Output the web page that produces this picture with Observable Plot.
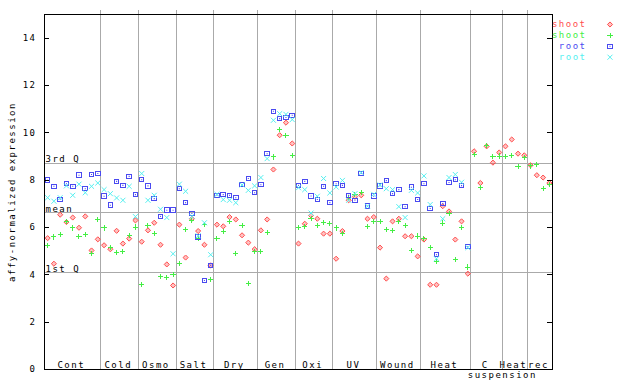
<!DOCTYPE html>
<html><head><meta charset="utf-8">
<script src="https://cdn.jsdelivr.net/npm/d3@7"></script>
<script src="https://cdn.jsdelivr.net/npm/@observablehq/plot@0.6"></script>
<style>body{margin:0;background:#fff}</style>
</head><body><div id="chart"></div>
<script>
const groupNames = ["Cont","Cold","Osmo","Salt","Dry","Gen","Oxi","UV","Wound","Heat","C","Heat","rec"];
const groupSizes = [9,6,6,6,7,6,6,7,7,8,5,4,4];
const subLabel = "suspension";

const shootRed = [
  5.55,4.47,6.54,6.23,6.42,5.99,6.47,5.03,5.50,
  5.25,5.08,5.86,5.32,5.53,6.30,
  5.40,5.88,6.20,5.27,4.44,3.55,
  6.12,4.73,6.37,5.85,5.27,4.40,
  6.12,6.05,6.44,6.34,5.67,5.36,5.08,
  5.88,6.34,8.45,9.90,10.43,9.55,
  5.32,6.16,6.51,6.37,5.74,5.74,
  4.68,5.85,7.15,7.30,7.36,6.37,6.44,
  5.15,3.84,6.26,6.37,5.63,5.63,4.78,
  5.49,3.58,3.58,6.90,6.68,5.49,6.26,4.05,
  9.22,7.88,9.43,8.74,9.17,
  9.43,9.72,9.12,9.05,
  8.63,8.21,8.11,7.88
];
const shootGreen = [
  5.25,5.60,5.70,6.26,5.98,5.63,5.70,4.89,6.34,
  5.98,5.17,4.94,4.99,5.67,6.02,
  3.60,6.09,5.74,3.93,3.88,4.02,
  4.47,5.92,6.30,5.55,6.12,3.79,
  5.53,5.84,6.27,4.89,6.09,3.65,4.99,
  4.99,5.78,8.98,10.14,9.90,9.05,
  5.99,6.05,6.37,6.08,6.20,6.16,
  5.98,5.74,7.26,7.40,7.47,6.05,6.26,
  6.26,5.91,5.88,6.26,6.09,5.03,5.64,
  5.55,5.17,4.57,6.19,6.59,4.64,5.99,4.33,
  9.08,7.69,9.48,9.01,9.02,
  9.01,9.05,8.59,8.96,
  8.60,8.67,7.64,7.83
];
const rootBlue = [
  8.00,7.74,7.19,7.85,7.74,8.21,7.64,8.24,8.28,
  7.32,6.94,7.95,7.78,8.16,7.39,
  8.02,7.76,7.22,6.47,6.73,6.73,
  7.64,7.05,6.59,5.60,3.76,4.40,
  7.36,7.39,7.36,7.26,7.81,8.07,7.47,
  7.81,9.12,10.91,10.60,10.65,10.74,
  7.78,7.95,7.33,7.18,7.74,7.05,
  7.85,7.78,7.36,7.15,8.28,6.90,7.32,
  7.76,7.98,7.43,7.60,6.88,7.70,7.18,
  7.85,6.80,4.85,7.01,7.90,8.02,7.77,5.20
];
const rootCyan = [
  7.26,7.11,7.26,7.76,7.36,7.83,7.47,7.74,7.88,
  7.60,7.43,7.25,7.15,7.74,6.46,
  8.28,7.15,7.36,6.77,6.42,4.89,
  7.83,7.53,6.47,5.65,6.20,4.85,
  7.40,7.18,7.15,7.05,7.80,7.57,7.76,
  8.11,8.91,10.53,10.81,10.78,10.56,
  7.68,7.60,6.61,7.32,8.07,7.46,
  7.71,7.99,7.15,7.43,8.32,6.90,7.40,
  7.80,7.64,7.60,6.88,6.42,7.57,7.46,
  8.18,6.97,4.68,6.37,8.11,8.24,7.91,5.15
];
const refLabels = ["3rd Q","mean","1st Q"];
const refValues = [8.71,6.63,4.08];
const yTicks = [0,2,4,6,8,10,12,14];
const legendNames = ["shoot","shoot","root","root"];
const yLabel = "affy-normalized expression";

const RED = "#ff4d4d", GREEN = "#44ee44", BLUE = "#4a4af0", CYAN = "#55f0f0";
const n = d3.sum(groupSizes);
const bounds = Array.from(d3.cumsum(groupSizes));
const starts = [0, ...bounds.slice(0, -1)];
const pts = arr => arr.map((v, i) => ({x: i + 0.5, y: v})).filter(d => d.y != null);
const pxPerUnit = (640 - 44 - 88) / n;
const tickLen = 5 / pxPerUnit;

const symStyles = [
  {symbol: "diamond2", r: 2.3, stroke: RED, fill: RED, fillOpacity: 0.35, strokeWidth: 1},
  {symbol: "plus", r: 1.8, stroke: GREEN, strokeWidth: 1, shapeRendering: "crispEdges"},
  {symbol: "square2", r: 2.9, stroke: BLUE, strokeWidth: 1, shapeRendering: "crispEdges"},
  {symbol: "times", r: 2.4, stroke: CYAN, strokeWidth: 1}
];
const colors = [RED, GREEN, BLUE, CYAN];

const legendMarks = legendNames.flatMap((name, k) => {
  const dy = 10 + 10.9 * k;
  const m = [
    Plot.text([name], {frameAnchor: "top-right", text: d => d, dx: 34, dy, textAnchor: "end", lineAnchor: "middle", fill: colors[k]}),
    Plot.dot([name], {frameAnchor: "top-right", dx: 57.5, dy, ...symStyles[k]})
  ];
  if (k === 2) m.push(Plot.dot([name], {frameAnchor: "top-right", dx: 57.5, dy, symbol: "square", r: 0.6, fill: BLUE}));
  return m;
});

const chart = Plot.plot({
  width: 640, height: 384,
  marginLeft: 44, marginRight: 88, marginTop: 14, marginBottom: 15,
  x: {domain: [0, n], axis: null},
  y: {domain: [0, 15], axis: null},
  style: {fontFamily: "'DejaVu Sans Mono', monospace", fontSize: "9px", letterSpacing: "1.5px", background: "#fff", overflow: "visible"},
  marks: [
    Plot.ruleX(bounds.slice(0, -1), {stroke: "#aaaaaa", insetTop: -4, shapeRendering: "crispEdges"}),
    Plot.ruleY(refValues, {stroke: "#aaaaaa", shapeRendering: "crispEdges"}),
    Plot.text(refLabels, {y: (d, i) => refValues[i], text: d => d, frameAnchor: "left", textAnchor: "start", lineAnchor: "bottom", dx: 1, dy: -1, fill: "#000"}),
    Plot.dot(pts(shootRed), {x: "x", y: "y", ...symStyles[0]}),
    Plot.dot(pts(shootGreen), {x: "x", y: "y", ...symStyles[1]}),
    Plot.dot(pts(rootBlue), {x: "x", y: "y", ...symStyles[2]}),
    Plot.dot(pts(rootBlue), {x: "x", y: "y", symbol: "square", r: 0.6, fill: BLUE}),
    Plot.dot(pts(rootCyan), {x: "x", y: "y", ...symStyles[3]}),
    Plot.frame({stroke: "#000", shapeRendering: "crispEdges"}),
    Plot.ruleY(yTicks, {x1: 0, x2: tickLen, stroke: "#000", shapeRendering: "crispEdges"}),
    Plot.ruleY(yTicks, {x1: n - tickLen, x2: n, stroke: "#000", shapeRendering: "crispEdges"}),
    Plot.axisY(yTicks, {tickSize: 0, tickPadding: 8, label: null, tickFormat: d => String(d)}),
    Plot.text([yLabel], {frameAnchor: "left", text: d => d, rotate: -90, dx: -32, textAnchor: "middle", lineAnchor: "middle"}),
    Plot.text(groupNames, {x: (d, i) => starts[i] + groupSizes[i] / 2, text: d => d, frameAnchor: "bottom", lineAnchor: "bottom", dy: -2, dx: -1.5}),
    Plot.text([subLabel], {x: () => bounds[groupNames.indexOf("C")], text: d => d, frameAnchor: "bottom", lineAnchor: "bottom", dy: 8}),
    ...legendMarks
  ]
});
document.getElementById("chart").appendChild(chart);
</script>
</body></html>
